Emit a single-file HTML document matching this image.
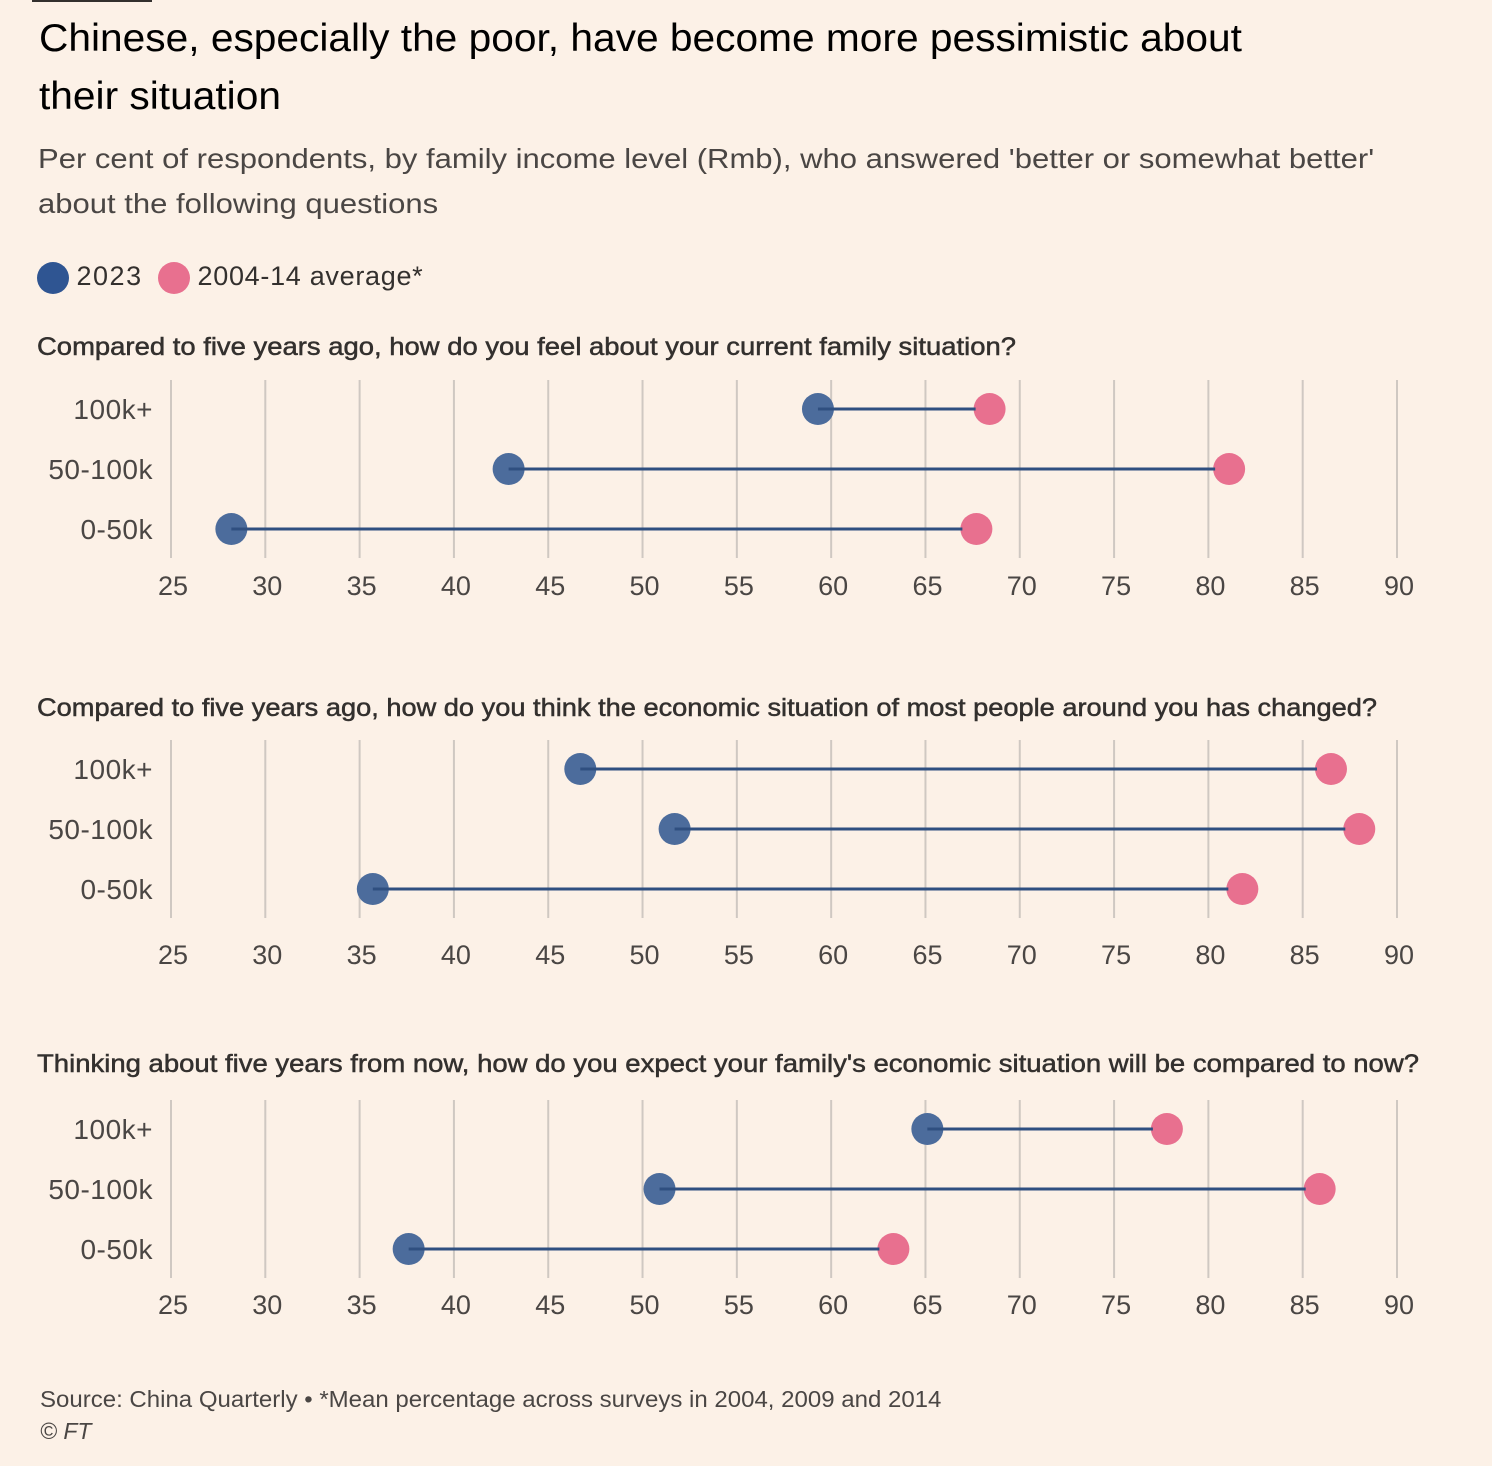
<!DOCTYPE html>
<html><head><meta charset="utf-8"><style>
body{margin:0;width:1492px;height:1466px;background:#fcf1e7;font-family:"Liberation Sans",sans-serif;overflow:hidden;position:relative;color:#000}
.t{position:absolute;white-space:nowrap;transform-origin:0 0}
</style></head><body>
<div style="position:absolute;left:32px;top:0;width:120px;height:2px;background:#33302e"></div>
<div class="t" style="left:39px;top:10px;font-size:39px;line-height:58px;color:#000;transform:scaleX(1.043)">Chinese, especially the poor, have become more pessimistic about<br>their situation</div>
<div class="t" style="left:38px;top:136px;font-size:28px;line-height:45px;color:#4a4644;transform:scaleX(1.108)">Per cent of respondents, by family income level (Rmb), who answered 'better or somewhat better'<br>about the following questions</div>
<div style="position:absolute;left:37px;top:261px;font-size:27px;color:#33302e">
<span style="position:absolute;left:0;top:0;white-space:nowrap"><span style="display:inline-block;width:32px;height:32px;border-radius:50%;background:#2f5592;vertical-align:middle"></span> <span style="letter-spacing:1.5px">2023</span></span>
<span style="position:absolute;left:121px;top:0;white-space:nowrap"><span style="display:inline-block;width:32px;height:32px;border-radius:50%;background:#e8708f;vertical-align:middle"></span> <span style="letter-spacing:0.7px">2004-14 average*</span></span>
</div>
<svg id="chart" width="1492" height="1466" style="position:absolute;left:0;top:0"></svg>
<div class="t" style="left:40px;top:1386px;font-size:23px;color:#4a4644;transform:scaleX(1.044)">Source: China Quarterly • *Mean percentage across surveys in 2004, 2009 and 2014</div>
<div class="t" style="left:40px;top:1418px;font-size:23px;color:#4a4644;font-style:italic">© FT</div>
<script>
const questions=["Compared to five years ago, how do you feel about your current family situation?","Compared to five years ago, how do you think the economic situation of most people around you has changed?","Thinking about five years from now, how do you expect your family's economic situation will be compared to now?"];
const categories=["100k+","50-100k","0-50k"];
const values2023=[[59.3,42.9,28.2],[46.7,51.7,35.7],[65.1,50.9,37.6]];
const valuesAvg=[[68.4,81.1,67.7],[86.5,88.0,81.8],[77.8,85.9,63.3]];
const ticks=[25,30,35,40,45,50,55,60,65,70,75,80,85,90];
const NS="http://www.w3.org/2000/svg";
const svg=document.getElementById('chart');
const x=v=>171+(v-25)*(1397-171)/65;
const tops=[380,740,1100];
const titleY=[346,707,1063];
const titleW=[979,1340,1382];
const tickY=[585,954,1304];
function mk(tag,attrs,parent){const e=document.createElementNS(NS,tag);for(const k in attrs)e.setAttribute(k,attrs[k]);(parent||svg).appendChild(e);return e;}
questions.forEach((q,p)=>{
  const g=mk('g',{});
  
  
  const tt=mk('text',{x:37,y:titleY[p]+9,'font-size':25,fill:'#33302e','font-family':'Liberation Sans, sans-serif',stroke:'#33302e','stroke-width':0.5,textLength:titleW[p],lengthAdjust:'spacingAndGlyphs'},g);
  tt.textContent=q;
  
  
  const t0=tops[p];
  const y=i=>t0+29+i*60;
  ticks.forEach(t=>{
    const l=mk('line',{x1:x(t),x2:x(t),y1:t0,y2:t0+178,stroke:'#cfc8c2','stroke-width':2},g);
    
    
    const lb=mk('text',{x:x(t)+2,y:tickY[p]+10,'font-size':27,fill:'#4a4644','text-anchor':'middle','font-family':'Liberation Sans, sans-serif'},g);
    lb.textContent=t;
    
    
  });
  categories.forEach((c,i)=>{
    const lb=mk('text',{x:153,y:y(i)+10,'font-size':28,fill:'#4a4644','text-anchor':'end','font-family':'Liberation Sans, sans-serif','letter-spacing':0.5},g);
    lb.textContent=c;
    
    
    const a=values2023[p][i],b=valuesAvg[p][i];
    const d1=mk('circle',{cx:x(a),cy:y(i),r:16,fill:'#4c6c9c'},g);
    
    
    const d2=mk('circle',{cx:x(b),cy:y(i),r:16,fill:'#e8708f'},g);
    
    
    const ln=mk('line',{x1:x(a),x2:x(b)-14,y1:y(i),y2:y(i),stroke:'#2f4f80','stroke-width':3},g);
    
    
  });
});
</script>
</body></html>
